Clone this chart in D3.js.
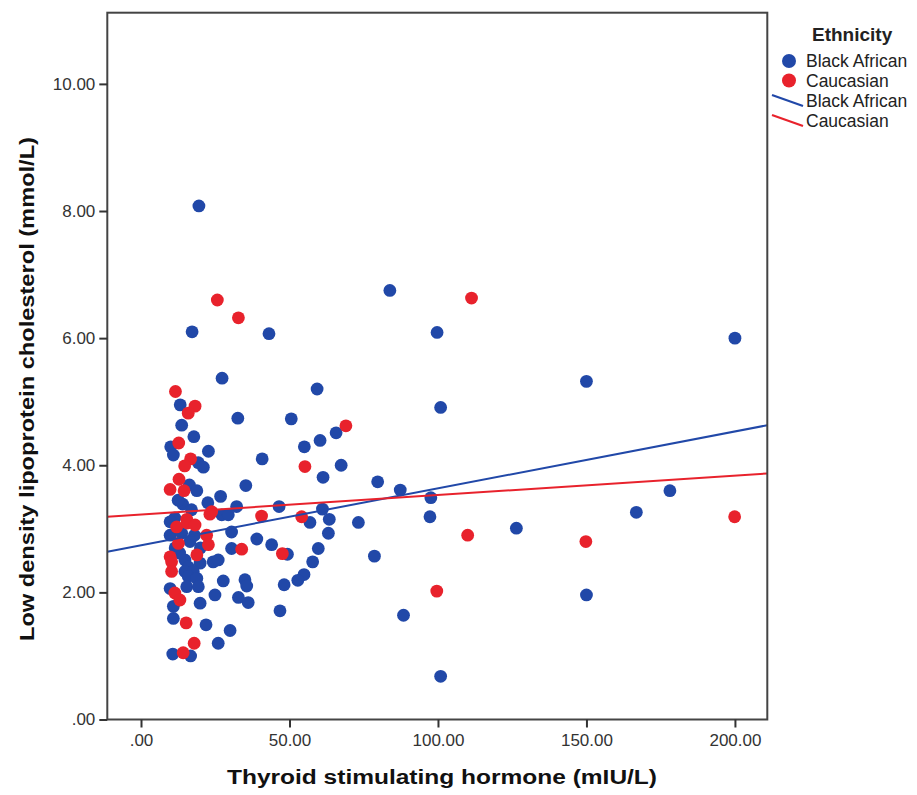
<!DOCTYPE html>
<html><head><meta charset="utf-8">
<script src="https://cdn.jsdelivr.net/npm/d3@7"></script>
<style>body{margin:0;background:#fff}svg{display:block}</style>
</head><body>
<script>
// ---- data ----
const blackAfrican = [
[19.5,8.08],[17.2,6.10],[43.1,6.07],[27.3,5.37],[83.8,6.75],[99.7,6.09],[200,6.0],[150,5.32],[100.9,4.91],
[59.3,5.2],[50.6,4.73],[65.7,4.51],[60.3,4.39],[55,4.29],[67.4,4.0],[61.3,3.81],[79.7,3.74],[87.3,3.61],
[97.6,3.49],[97.3,3.19],[61.1,3.31],[63.4,3.15],[56.9,3.10],[73.2,3.10],[63.1,2.93],[126.4,3.01],[59.7,2.69],
[49.3,2.60],[78.6,2.57],[57.8,2.48],[54.9,2.28],[52.8,2.19],[48.2,2.12],[46.8,1.71],[88.4,1.64],[100.9,0.68],
[178.1,3.60],[166.8,3.26],[150,1.96],
[13.2,4.95],[32.6,4.74],[13.7,4.63],[17.8,4.45],[10.0,4.29],[10.9,4.16],[22.7,4.22],[19.3,4.04],[21.0,3.97],
[40.8,4.10],[16.3,3.69],[18.8,3.60],[35.3,3.68],[14.0,3.39],[22.5,3.41],[26.8,3.51],[32.2,3.35],[46.5,3.35],
[27.2,3.22],[29.4,3.22],[11.4,3.17],[9.8,3.11],[30.5,2.95],[9.8,2.90],[13.7,2.93],[16.5,2.80],[30.5,2.69],
[39.0,2.84],[44.0,2.75],[14.8,2.51],[15.9,2.40],[19.9,2.46],[24.3,2.48],[26.0,2.51],[14.8,2.33],[17.6,2.33],
[15.9,2.25],[18.8,2.22],[15.4,2.09],[19.3,2.09],[9.8,2.06],[27.7,2.18],[35.0,2.20],[35.6,2.10],[24.9,1.96],
[19.9,1.83],[32.8,1.92],[36.1,1.84],[10.9,1.78],[10.9,1.59],[21.9,1.49],[30.0,1.40],[26.0,1.20],[10.7,1.03],
[16.7,1.00],[12.5,3.45],[17.0,3.30],[20.0,2.70],[13.0,2.62],[18.0,2.90],[11.5,2.70]
];
const caucasian = [
[11.6,5.16],[18.2,4.93],[15.9,4.82],[12.7,4.35],[16.7,4.10],[14.7,3.99],[12.8,3.78],[9.8,3.62],[14.5,3.60],
[23.8,3.27],[40.6,3.20],[15.4,3.15],[23.2,3.23],[12.0,3.03],[15.6,3.09],[18.2,3.06],[22.1,2.90],[12.6,2.77],
[22.7,2.75],[33.9,2.68],[47.6,2.61],[9.8,2.56],[10.3,2.48],[18.8,2.59],[10.3,2.33],[11.4,1.99],[13.1,1.88],
[15.2,1.52],[17.9,1.20],[14.2,1.05],[25.7,6.60],[32.8,6.32],[69.0,4.62],[55.2,3.98],[54.1,3.19],[110,2.90],
[99.6,2.02],[111.3,6.63],[149.8,2.80],[199.9,3.19]
];
// fit lines: [intercept, slope]
const fitBlack = [2.742, 0.00895];
const fitCauc = [3.225, 0.00306];
const xTicks = [0, 50, 100, 150, 200];
const yTicks = [0, 2, 4, 6, 8, 10];
const groups = ["Black African", "Caucasian"];
const colors = ["#2148a8", "#e8222c"];

// ---- chart ----
const W = 917, H = 795;
const svg = d3.select("body").append("svg").attr("width", W).attr("height", H);
const L = 107.3, R = 767.3, T = 12.7, B = 719.5;
const x = d3.scaleLinear().domain([-11.35, 210.9]).range([L, R]);
const y = d3.scaleLinear().domain([0, 11.12]).range([B, T]);
const fmt = v => d3.format(".2f")(v).replace(/^0\./, ".");

const font = "Liberation Sans, Arial, sans-serif";

const cp = svg.append("defs").append("clipPath").attr("id","c").append("rect")
  .attr("x", L).attr("y", T).attr("width", R-L).attr("height", B-T);
const plot = svg.append("g").attr("clip-path","url(#c)");

const data = blackAfrican.map(d => ({x:d[0], y:d[1], g:0}))
  .concat(caucasian.map(d => ({x:d[0], y:d[1], g:1})));
plot.selectAll("circle.pt").data(data).join("circle")
  .attr("class","pt")
  .attr("cx", d => x(d.x)).attr("cy", d => y(d.y)).attr("r", 6.4)
  .attr("fill", d => colors[d.g]);

[fitBlack, fitCauc].forEach((f, i) => {
  const [x0, x1] = x.domain();
  plot.append("line")
    .attr("x1", x(x0)).attr("y1", y(f[0] + f[1]*x0))
    .attr("x2", x(x1)).attr("y2", y(f[0] + f[1]*x1))
    .attr("stroke", colors[i]).attr("stroke-width", 2);
});

svg.append("rect").attr("x", L).attr("y", T).attr("width", R-L).attr("height", B-T)
  .attr("fill","none").attr("stroke","#444").attr("stroke-width",2);

const xAxis = d3.axisBottom(x).tickValues(xTicks).tickFormat(fmt).tickSize(8).tickPadding(6);
const gx = svg.append("g").attr("transform", `translate(0,${B})`).call(xAxis);
gx.select(".domain").remove();
gx.selectAll("line").attr("stroke","#333").attr("stroke-width",2);
gx.selectAll("text").attr("font-family", font).attr("font-size", 17).attr("fill","#333");

const yAxis = d3.axisLeft(y).tickValues(yTicks).tickFormat(fmt).tickSize(8).tickPadding(4);
const gy = svg.append("g").attr("transform", `translate(${L},0)`).call(yAxis);
gy.select(".domain").remove();
gy.selectAll("line").attr("stroke","#333").attr("stroke-width",2);
gy.selectAll("text").attr("font-family", font).attr("font-size", 17).attr("fill","#333");

svg.append("text").attr("x", 442).attr("y", 784).attr("text-anchor","middle")
  .attr("font-family", font).attr("font-weight","bold").attr("font-size", 20)
  .attr("textLength", 430).attr("lengthAdjust","spacingAndGlyphs").attr("fill","#111")
  .text("Thyroid stimulating hormone (mIU/L)");
svg.append("text").attr("transform","translate(34,389) rotate(-90)").attr("text-anchor","middle")
  .attr("font-family", font).attr("font-weight","bold").attr("font-size", 20)
  .attr("textLength", 504).attr("lengthAdjust","spacingAndGlyphs").attr("fill","#111")
  .text("Low density lipoprotein cholesterol (mmol/L)");

const lg = svg.append("g").attr("font-family", font);
lg.append("text").attr("x", 812).attr("y", 41).attr("font-weight","bold").attr("font-size", 19)
  .attr("fill","#222").text("Ethnicity");
groups.forEach((g, i) => {
  const cy = 61 + i*19.5;
  lg.append("circle").attr("cx", 789).attr("cy", cy).attr("r", 7).attr("fill", colors[i]);
  lg.append("text").attr("x", 806).attr("y", cy + 6).attr("font-size", 17.5).attr("fill","#222").text(g);
});
groups.forEach((g, i) => {
  const cy = 101 + i*20;
  lg.append("line").attr("x1", 772).attr("y1", cy - 6).attr("x2", 803).attr("y2", cy + 5)
    .attr("stroke", colors[i]).attr("stroke-width", 2.2);
  lg.append("text").attr("x", 806).attr("y", cy + 6).attr("font-size", 17.5).attr("fill","#222").text(g);
});
</script>
</body></html>
